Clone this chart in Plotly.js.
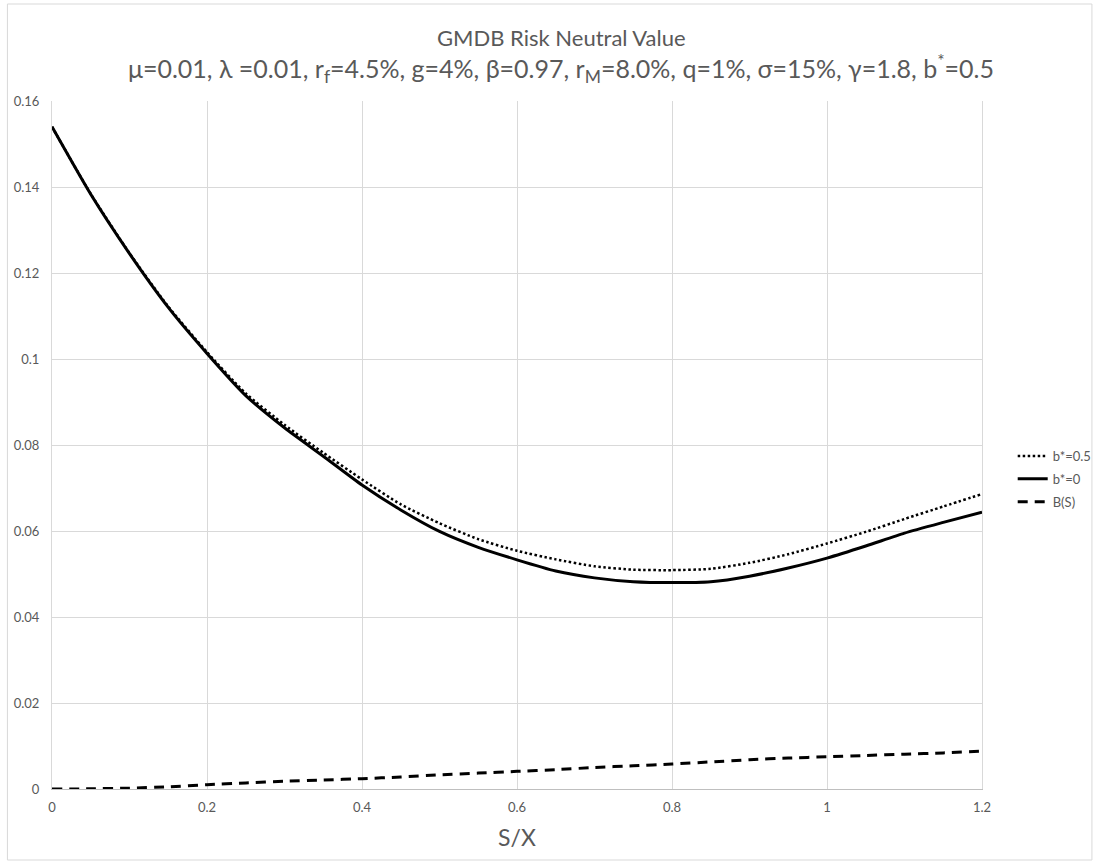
<!DOCTYPE html>
<html>
<head>
<meta charset="utf-8">
<script src="https://cdn.plot.ly/plotly-3.0.1.min.js"></script>
<style>html,body{margin:0;padding:0;background:#fff;}#chart{width:1109px;height:867px;}</style>
</head>
<body>
<div id="chart"></div>
<script>
const sx = [0,0.05,0.1,0.15,0.2,0.25,0.3,0.35,0.4,0.45,0.5,0.55,0.6,0.65,0.7,0.75,0.8,0.85,0.9,0.95,1.0,1.05,1.1,1.15,1.2];
const bStar05 = [0.1540,0.1384,0.1246,0.1122,0.1016,0.0920,0.0847,0.0782,0.0720,0.0662,0.0618,0.0581,0.0554,0.0534,0.0518,0.0510,0.0509,0.0512,0.0526,0.0546,0.0571,0.0598,0.0628,0.0657,0.0686];
const bStar0 = [0.1540,0.1383,0.1245,0.1120,0.1013,0.0915,0.0840,0.0774,0.0707,0.0649,0.0599,0.0562,0.0533,0.0507,0.0491,0.0482,0.0480,0.0482,0.0495,0.0514,0.0537,0.0565,0.0595,0.0620,0.0644];
const bS = [0,0.00005,0.0002,0.0005,0.0010,0.0014,0.0018,0.0021,0.0024,0.0028,0.0033,0.0037,0.0041,0.0045,0.0050,0.0054,0.0058,0.0063,0.0068,0.0072,0.0075,0.0078,0.0081,0.0084,0.0088];
const seriesNames = ['b*=0.5','b*=0','B(S)'];
const xTicks = [0,0.2,0.4,0.6,0.8,1,1.2];
const xTickText = ['0','0.2','0.4','0.6','0.8','1','1.2'];
const yTicks = [0,0.02,0.04,0.06,0.08,0.1,0.12,0.14,0.16];
const yTickText = ['0','0.02','0.04','0.06','0.08','0.1','0.12','0.14','0.16'];

const FONT = 'Lato, "Open Sans", sans-serif';
const GRAY = '#595959';

const traces = [
  {x: sx, y: bStar05, name: seriesNames[0], mode: 'lines', legendgroup: 'a',
   line: {color: '#000', width: 2.5, dash: '2.5px,2.5px', shape: 'spline', smoothing: 0.6}},
  {x: sx, y: bStar0, name: seriesNames[1], mode: 'lines', legendgroup: 'b',
   line: {color: '#000', width: 3, shape: 'spline', smoothing: 0.6}},
  {x: sx, y: bS, name: seriesNames[2], mode: 'lines', legendgroup: 'c',
   line: {color: '#000', width: 3, dash: '10px,7px', shape: 'spline', smoothing: 0.6}}
];

const plotL = 52, plotR = 991, plotT = 101, plotB = 789, W = 1109, H = 867;
const pw = plotR - plotL, ph = plotB - plotT;
const px = v => (v - plotL) / pw;
const py = v => (plotB - v) / ph;

const layout = {
  width: W, height: H,
  margin: {l: plotL, r: W - plotR, t: plotT, b: H - plotB, pad: 0},
  paper_bgcolor: '#fff', plot_bgcolor: '#fff',
  font: {family: FONT, color: GRAY},
  showlegend: true,
  legend: {x: px(1022), y: py(441), xanchor: 'left', yanchor: 'top',
           font: {family: FONT, size: 13, color: GRAY}, traceorder: 'grouped',
           tracegroupgap: 3, bgcolor: 'rgba(0,0,0,0)'},
  xaxis: {range: [0, 1.2], tickvals: xTicks, ticktext: xTickText, showgrid: true,
          gridcolor: '#d9d9d9', gridwidth: 1, zeroline: false, showline: true,
          linecolor: '#bfbfbf', linewidth: 1, ticks: '', ticklabelstandoff: 6,
          tickfont: {size: 13, color: GRAY},
          title: {text: 'S/X', font: {size: 23, color: GRAY}, standoff: 16}},
  yaxis: {range: [0, 0.16], tickvals: yTicks, ticktext: yTickText, showgrid: true,
          gridcolor: '#d9d9d9', gridwidth: 1, zeroline: false, showline: true,
          linecolor: '#d9d9d9', linewidth: 1, mirror: true, ticks: '', ticklabelstandoff: 9,
          tickfont: {size: 13, color: GRAY}},
  annotations: [
    {xref: 'paper', yref: 'paper', x: px(566), y: py(38), xanchor: 'center', yanchor: 'middle',
     showarrow: false, text: 'GMDB Risk Neutral Value', font: {family: FONT, size: 22, color: GRAY}},
    {xref: 'paper', yref: 'paper', x: px(566), y: py(69), xanchor: 'center', yanchor: 'middle',
     showarrow: false,
     text: 'μ=0.01, λ =0.01, r<sub>f</sub>=4.5%, g=4%, β=0.97, r<sub>M</sub>=8.0%, q=1%, σ=15%, γ=1.8, b<sup>*</sup>=0.5',
     font: {family: FONT, size: 25, color: GRAY}}
  ],
  shapes: [
    {type: 'rect', xref: 'paper', yref: 'paper', x0: px(7), x1: px(1102), y0: py(860), y1: py(4),
     line: {color: '#d9d9d9', width: 1}, fillcolor: 'rgba(0,0,0,0)', layer: 'below'}
  ]
};

Plotly.newPlot('chart', traces, layout, {displayModeBar: false, staticPlot: true});
</script>
</body>
</html>
